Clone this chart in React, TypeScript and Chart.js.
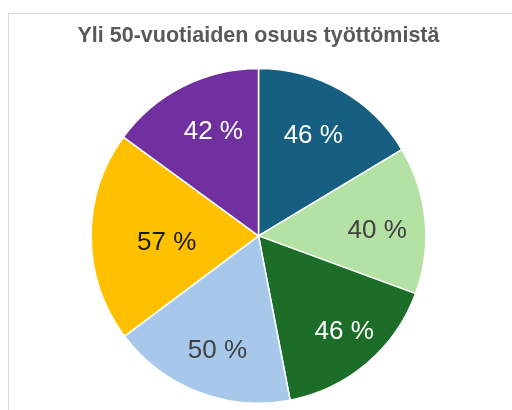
import React, { useEffect, useRef } from "react";
import { Chart, registerables } from "chart.js";

Chart.register(...registerables);

const TITLE = "Yli 50-vuotiaiden osuus työttömistä";
const categories = ["A", "B", "C", "D", "E", "F"];
const values = [46, 40, 46, 50, 57, 42];
const labels = ["46 %", "40 %", "46 %", "50 %", "57 %", "42 %"];
const sliceColors = ["#175F80", "#B3E2A4", "#1B6D28", "#A7C8EB", "#FFC000", "#7030A0"];
const labelColors = ["#ffffff", "#404040", "#ffffff", "#404040", "#1a1a1a", "#ffffff"];
const labelRadius = [0.68, 0.71, 0.77, 0.73, 0.55, 0.68];
const labelAngleShift = [-0.7, 3, -1.3, -1.5, -3.7, 3.5];

const sliceLabelPlugin = {
  id: "sliceLabels",
  afterDatasetsDraw(chart: any) {
    const ctx = chart.ctx;
    const meta = chart.getDatasetMeta(0);
    ctx.save();
    ctx.font = "26px 'Liberation Sans', Arial, sans-serif";
    ctx.textAlign = "center";
    ctx.textBaseline = "middle";
    meta.data.forEach((arc: any, i: number) => {
      const p = arc.getProps(["x", "y", "startAngle", "endAngle", "outerRadius"], true);
      const mid = (p.startAngle + p.endAngle) / 2 + (labelAngleShift[i] * Math.PI) / 180;
      const r = p.outerRadius * labelRadius[i];
      ctx.fillStyle = labelColors[i];
      ctx.fillText(labels[i], p.x + Math.cos(mid) * r, p.y + Math.sin(mid) * r);
    });
    ctx.restore();
  },
};

export default function App() {
  const ref = useRef<HTMLCanvasElement>(null);
  useEffect(() => {
    if (!ref.current) return;
    const chart = new Chart(ref.current, {
      type: "pie",
      data: {
        labels: categories,
        datasets: [
          {
            data: values,
            backgroundColor: sliceColors,
            borderColor: "#ffffff",
            borderWidth: 1.5,
          },
        ],
      },
      options: {
        responsive: false,
        animation: false,
        devicePixelRatio: 1,
        layout: { padding: { left: 5, right: 0, top: 0, bottom: 6 } },
        plugins: {
          legend: { display: false },
          tooltip: { enabled: false },
          title: {
            display: true,
            text: TITLE,
            color: "#595959",
            font: { family: "'Liberation Sans', Arial, sans-serif", size: 21.5, weight: "bold" },
            padding: { top: 23, bottom: 19 },
          },
        },
      },
      plugins: [sliceLabelPlugin],
    });
    return () => chart.destroy();
  }, []);
  return (
    <div style={{ position: "fixed", left: 0, top: 0, width: 512, height: 410, background: "#fff", overflow: "hidden" }}>
      <div
        style={{
          position: "absolute",
          left: 8,
          top: 13,
          width: 600,
          height: 500,
          border: "1px solid #d9d9d9",
        }}
      />
      <canvas ref={ref} width={512} height={410} style={{ position: "absolute", left: 0, top: 0 }} />
    </div>
  );
}
